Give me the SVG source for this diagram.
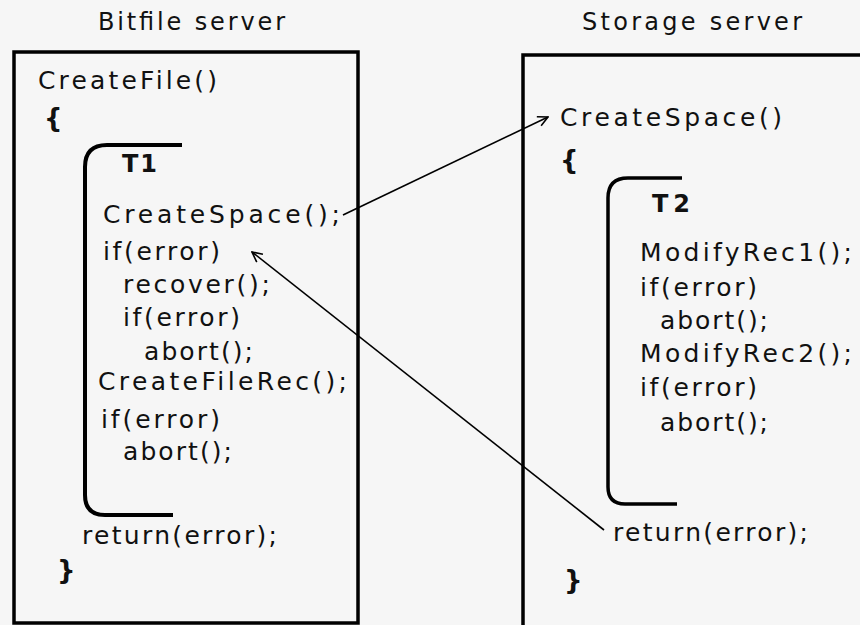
<svg xmlns="http://www.w3.org/2000/svg" width="860" height="625" viewBox="0 0 860 625">
<defs>
<marker id="arr" viewBox="0 0 12 12" refX="11" refY="6" markerWidth="12" markerHeight="12" markerUnits="userSpaceOnUse" orient="auto">
<path d="M1,1 L11,6 L1,11" fill="none" stroke="#000" stroke-width="1.6"/>
</marker>
<style>
text{font-family:"DejaVu Sans","Liberation Sans",Arial,sans-serif;fill:#111;}
.code{font-size:25px;}
.hdr{font-size:24px;}
.bold{font-size:24px;font-weight:bold;}
.brace{font-size:26px;font-weight:bold;}
.box{fill:none;stroke:#000;stroke-width:3.5;}
.brk{fill:none;stroke:#000;stroke-width:4;}
.conn{fill:none;stroke:#000;stroke-width:1.6;}
</style>
</defs>
<rect x="0" y="0" width="860" height="625" fill="#f6f6f6"/>

<g id="bitfile-server">
<text class="hdr" x="98" y="30" textLength="187" lengthAdjust="spacing">Bitfile server</text>
<rect class="box" x="14" y="52" width="344" height="571"/>
<text class="code" x="38" y="89" textLength="179" lengthAdjust="spacing">CreateFile()</text>
<text class="brace" x="44" y="127">{</text>
<text class="brace" x="57" y="579">}</text>
<text class="code" x="82" y="544" textLength="195" lengthAdjust="spacing">return(error);</text>
</g>

<g id="T1">
<path class="brk" d="M182,145 H107 Q85,145 85,167 V495 Q85,515 105,515 H173"/>
<text class="bold" x="122" y="172" textLength="35" lengthAdjust="spacing">T1</text>
<text class="code" x="103" y="223" textLength="237" lengthAdjust="spacing">CreateSpace();</text>
<text class="code" x="103" y="260" textLength="117" lengthAdjust="spacing">if(error)</text>
<text class="code" x="123" y="293" textLength="147" lengthAdjust="spacing">recover();</text>
<text class="code" x="123" y="326" textLength="117" lengthAdjust="spacing">if(error)</text>
<text class="code" x="144" y="360" textLength="109" lengthAdjust="spacing">abort();</text>
<text class="code" x="98" y="390" textLength="249" lengthAdjust="spacing">CreateFileRec();</text>
<text class="code" x="101" y="428" textLength="119" lengthAdjust="spacing">if(error)</text>
<text class="code" x="123" y="460" textLength="109" lengthAdjust="spacing">abort();</text>
</g>

<g id="storage-server">
<text class="hdr" x="582" y="30" textLength="220" lengthAdjust="spacing">Storage server</text>
<rect class="box" x="523" y="55" width="360" height="600"/>
<text class="code" x="560" y="126" textLength="222" lengthAdjust="spacing">CreateSpace()</text>
<text class="brace" x="560" y="169">{</text>
<text class="brace" x="564" y="589">}</text>
<text class="code" x="613" y="541" textLength="195" lengthAdjust="spacing">return(error);</text>
</g>

<g id="T2">
<path class="brk" d="M682,178 H628 Q608,178 608,198 V487 Q608,504 625,504 H677" style="stroke-width:3.5"/>
<text class="bold" x="652" y="212" textLength="38" lengthAdjust="spacing">T2</text>
<text class="code" x="640" y="261" textLength="212" lengthAdjust="spacing">ModifyRec1();</text>
<text class="code" x="640" y="296" textLength="117" lengthAdjust="spacing">if(error)</text>
<text class="code" x="660" y="329" textLength="108" lengthAdjust="spacing">abort();</text>
<text class="code" x="640" y="362" textLength="212" lengthAdjust="spacing">ModifyRec2();</text>
<text class="code" x="640" y="396" textLength="117" lengthAdjust="spacing">if(error)</text>
<text class="code" x="660" y="431" textLength="108" lengthAdjust="spacing">abort();</text>
</g>

<g id="connectors">
<path class="conn" d="M343,215 L548,117" marker-end="url(#arr)"/>
<path class="conn" d="M604,530 L252,252" marker-end="url(#arr)"/>
</g>
</svg>
